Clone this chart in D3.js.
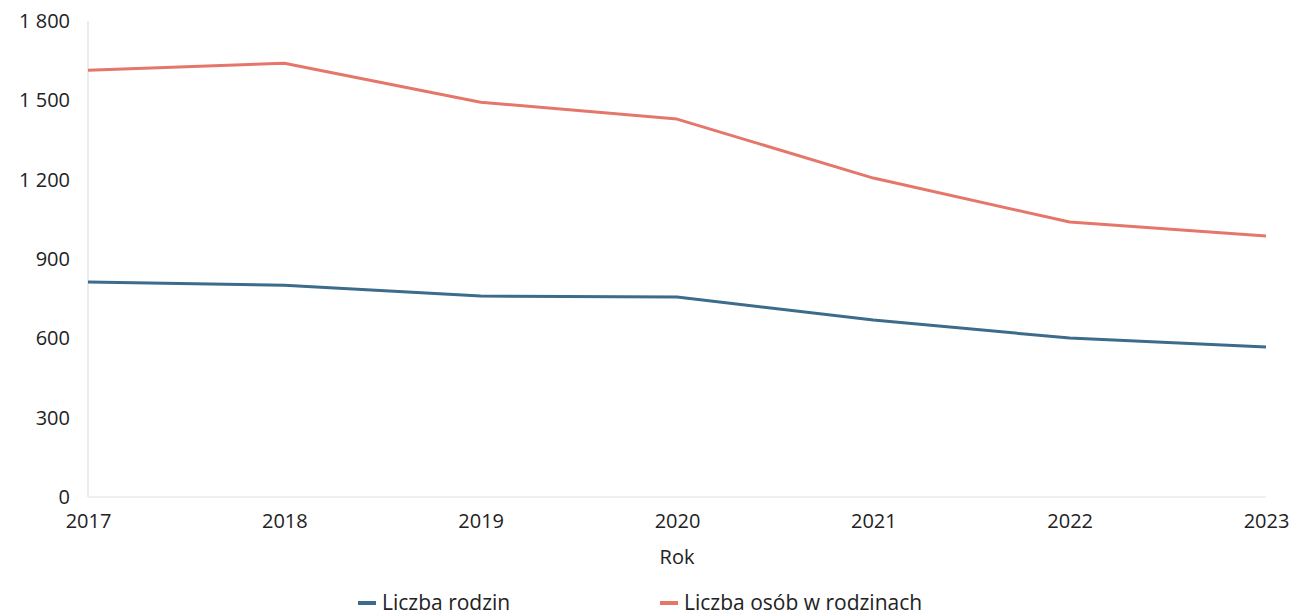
<!DOCTYPE html>
<html>
<head>
<meta charset="utf-8">
<script src="https://cdn.jsdelivr.net/npm/d3@7"></script>
<style>
  body { margin: 0; background: #fff; }
  svg text { font-family: "Open Sans", "Noto Sans", sans-serif; fill: #222; }
</style>
</head>
<body>
<svg id="chart" width="1303" height="616"></svg>
<script>
const years = ['2017', '2018', '2019', '2020', '2021', '2022', '2023'];
const rodziny = [813, 801, 760, 756, 669, 601, 567];
const osoby = [1614, 1640, 1493, 1429, 1206, 1040, 987];
const yTicks = [0, 300, 600, 900, 1200, 1500, 1800];
const seriesNames = ['Liczba rodzin', 'Liczba osób w rodzinach'];

const margin = {left: 88, right: 37, top: 21, bottom: 119};
const width = 1303 - margin.left - margin.right;
const height = 616 - margin.top - margin.bottom;

const svg = d3.select('#chart');
const g = svg.append('g').attr('transform', `translate(${margin.left},${margin.top})`);

const sx = d3.scalePoint().domain(years).range([0, width]);
const sy = d3.scaleLinear().domain([0, 1800]).range([height, 0]);

// faint axis lines
g.append('line')
  .attr('x1', 0).attr('x2', 0).attr('y1', 0).attr('y2', height)
  .style('stroke', '#ececec').style('stroke-width', 2);
g.append('line')
  .attr('x1', 0).attr('x2', width).attr('y1', height).attr('y2', height)
  .style('stroke', '#f0f0f0').style('stroke-width', 2);

const yAxis = d3.axisLeft(sy).tickValues(yTicks).tickSize(0).tickPadding(18)
  .tickFormat(d => d3.format(',')(d).replace(',', ' '));
const yg = g.append('g').call(yAxis);
yg.select('.domain').remove();
yg.selectAll('text').style('font-size', '20px');

const xAxis = d3.axisBottom(sx).tickSize(0).tickPadding(17);
const xg = g.append('g').attr('transform', `translate(0,${height})`).call(xAxis);
xg.select('.domain').remove();
xg.selectAll('text').style('font-size', '20px');

g.append('text')
  .attr('x', sx('2020'))
  .attr('y', height + 67)
  .attr('text-anchor', 'middle')
  .style('font-size', '20px')
  .text('Rok');

const line = d3.line()
  .x((d, i) => sx(years[i]))
  .y(d => sy(d));

const colors = ['#3c6b8b', '#e5766a'];
[rodziny, osoby].forEach(function(values, k) {
  g.append('path')
    .datum(values)
    .attr('d', line)
    .style('fill', 'none')
    .style('stroke', colors[k])
    .style('stroke-width', 3)
    .style('stroke-linejoin', 'round');
});

// legend
const legendX = [358, 660];
const legend = svg.append('g');
seriesNames.forEach(function(name, k) {
  const lg = legend.append('g').attr('transform', `translate(${legendX[k]},${603})`);
  lg.append('rect')
    .attr('x', 0).attr('y', -2)
    .attr('width', 18).attr('height', 4)
    .style('fill', colors[k]);
  lg.append('text')
    .attr('x', 24).attr('y', 7)
    .style('font-size', '21px')
    .text(name);
});
</script>
</body>
</html>
